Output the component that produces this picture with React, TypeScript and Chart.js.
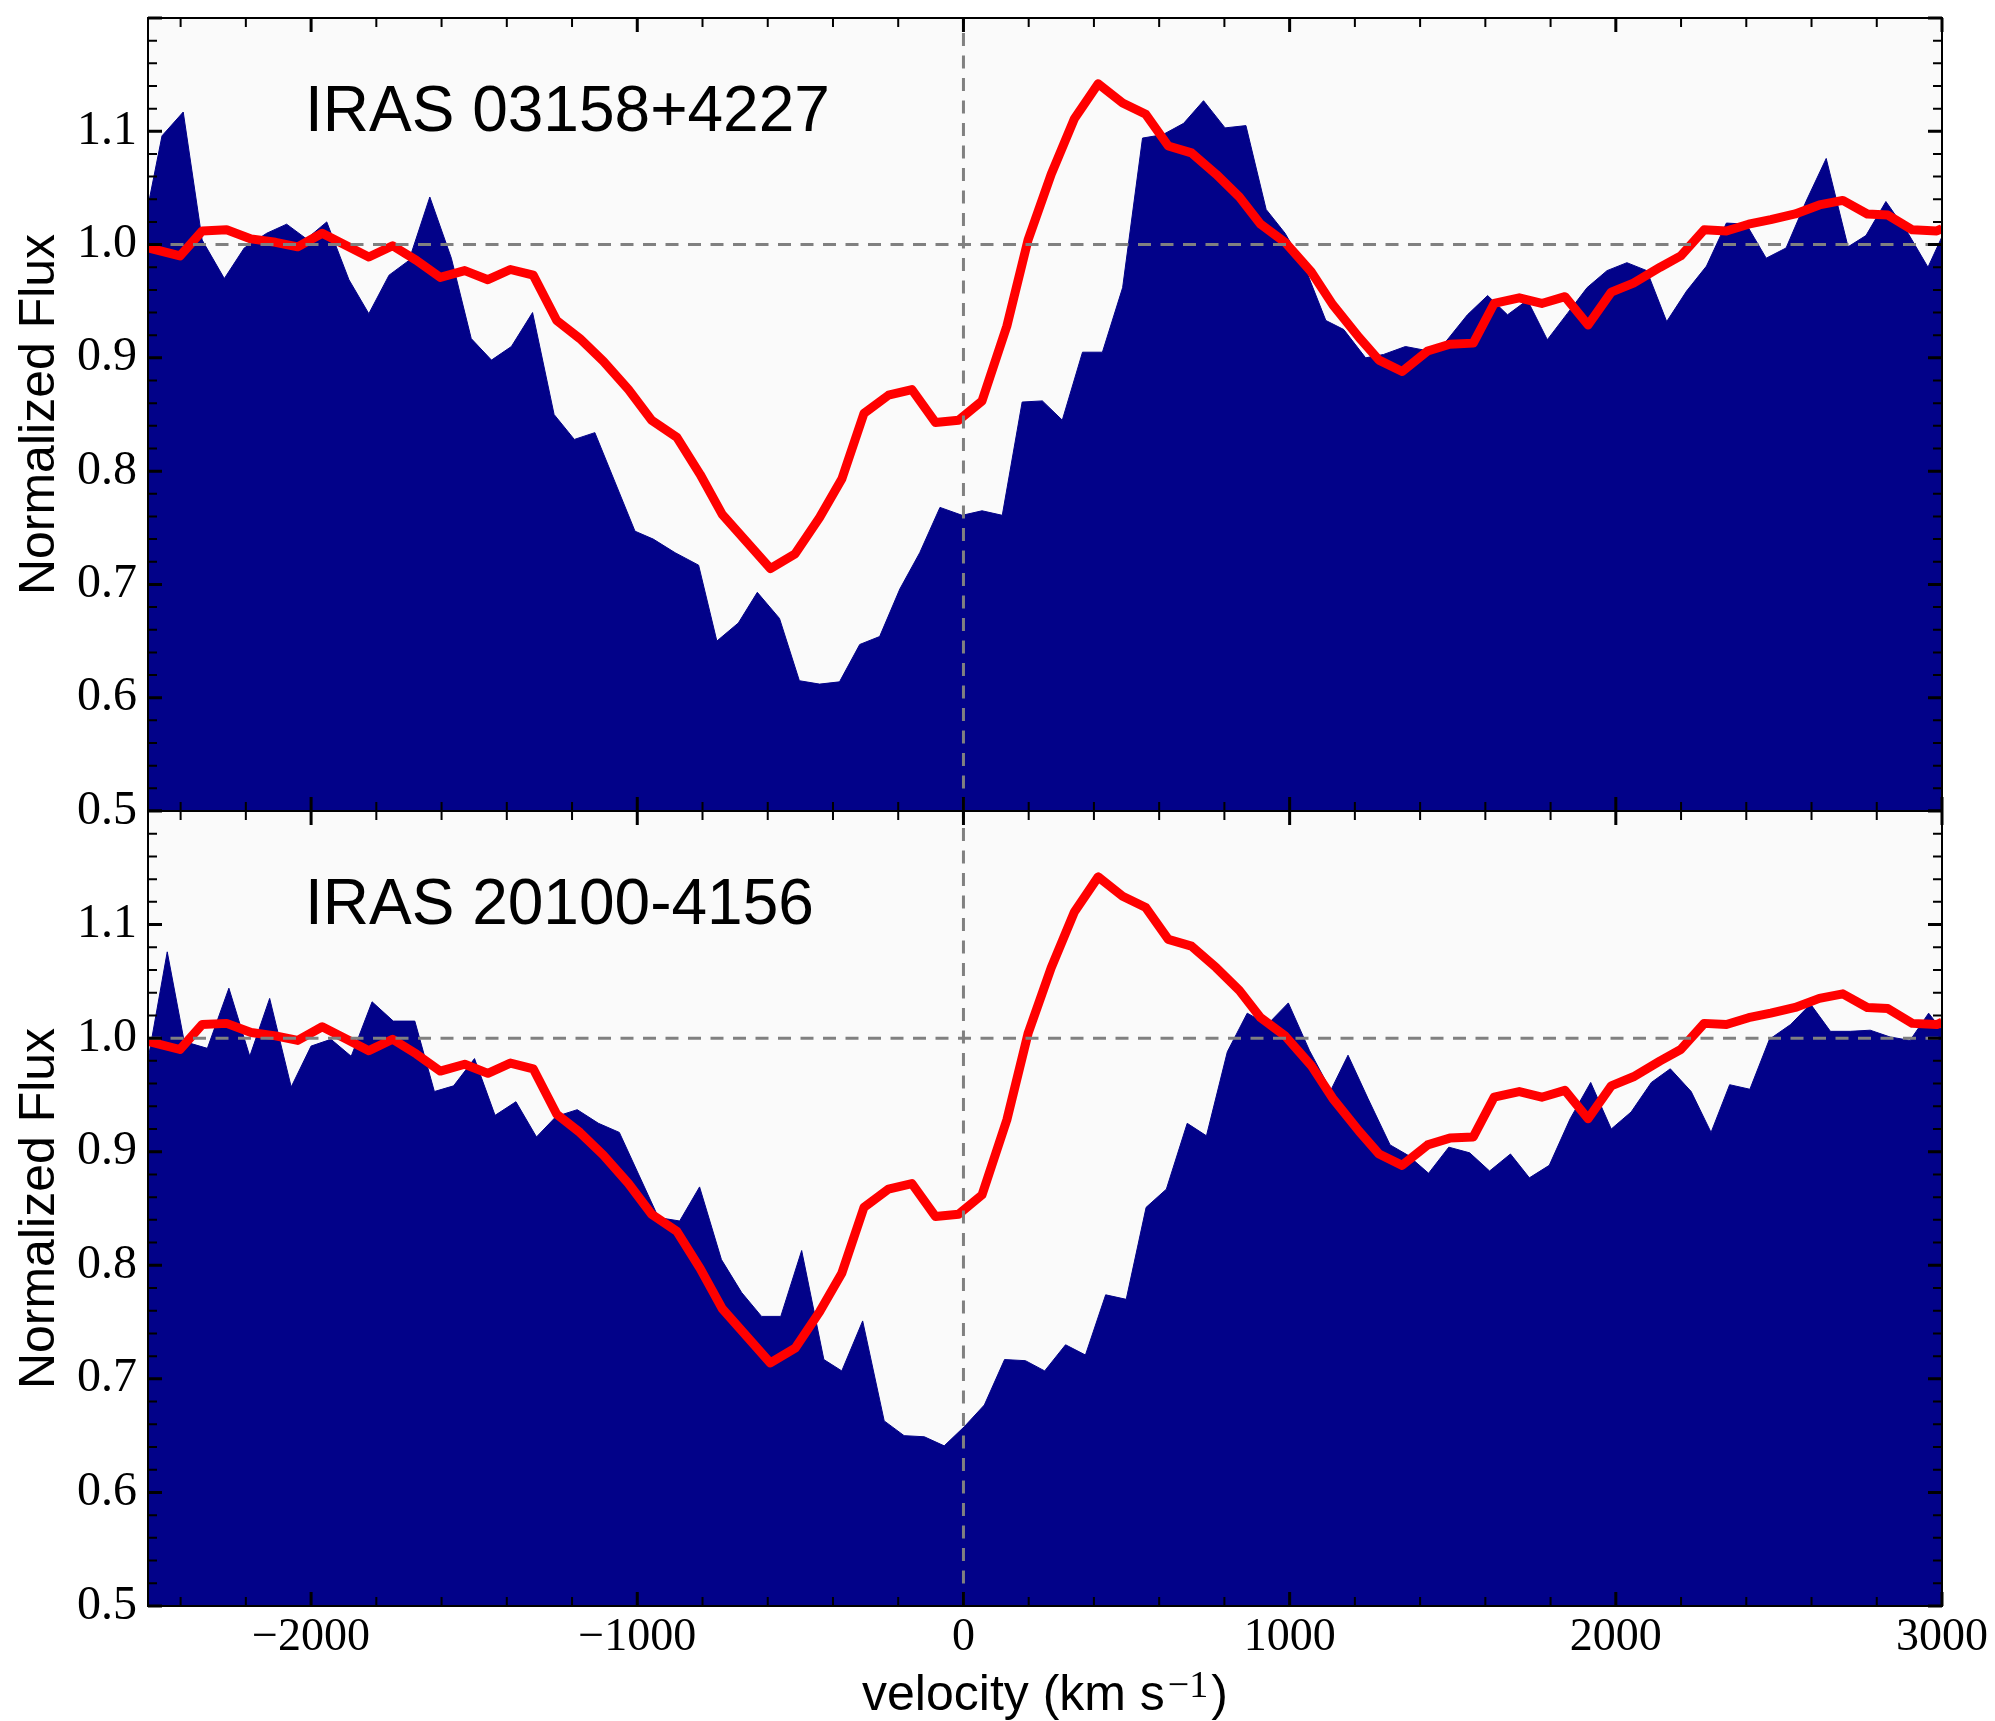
import React, { useEffect, useRef } from "react";
import { Chart, registerables } from "chart.js";

Chart.register(...registerables);

// Model profile (red), shared by both panels
const modelVelocity = [
  -2498, -2402, -2334, -2259, -2184, -2109, -2041, -1966, -1891, -1823,
  -1750, -1677, -1604, -1529, -1458, -1389, -1319, -1247, -1176, -1104,
  -1027, -956, -879, -807, -740, -592, -516, -441, -373, -305,
  -230, -158, -86, -15, 57, 133, 198, 269, 340, 413,
  488, 559, 628, 699, 775, 846, 911, 986, 1066, 1132,
  1213, 1274, 1345, 1423, 1491, 1563, 1627, 1704, 1773, 1844,
  1915, 1986, 2054, 2136, 2199, 2271, 2339, 2407, 2475, 2550,
  2624, 2696, 2771, 2834, 2909, 2984, 3000,
];
const modelFlux = [
  0.997, 0.99, 1.012, 1.013, 1.005, 1.002, 0.998, 1.01, 0.999, 0.989,
  0.999, 0.986, 0.971, 0.977, 0.969, 0.978, 0.973, 0.933, 0.917, 0.897,
  0.872, 0.845, 0.83, 0.797, 0.762, 0.714, 0.727, 0.759, 0.793, 0.851,
  0.867, 0.872, 0.843, 0.845, 0.862, 0.928, 1.004, 1.062, 1.111, 1.142,
  1.125, 1.115, 1.087, 1.081, 1.062, 1.042, 1.018, 1.002, 0.976, 0.947,
  0.918, 0.898, 0.888, 0.906, 0.912, 0.913, 0.948, 0.953, 0.948, 0.954,
  0.929, 0.958, 0.966, 0.98, 0.99, 1.013, 1.012, 1.018, 1.022, 1.027,
  1.035, 1.039, 1.027, 1.026, 1.013, 1.012, 1.014,
];

// IRAS 03158+4227 observed spectrum
const iras03158Velocity = [
  -2500, -2457, -2392, -2334, -2266, -2205, -2136, -2075, -2014, -1952,
  -1884, -1823, -1761, -1700, -1636, -1570, -1509, -1447, -1386, -1321,
  -1255, -1193, -1130, -1007, -951, -884, -812, -756, -690, -632,
  -564, -503, -441, -380, -318, -257, -195, -134, -72, -4,
  57, 119, 180, 242, 303, 365, 426, 488, 549, 611,
  675, 736, 802, 866, 928, 986, 1048, 1111, 1166, 1233,
  1288, 1355, 1410, 1478, 1545, 1607, 1668, 1729, 1790, 1851,
  1912, 1973, 2034, 2095, 2156, 2217, 2278, 2339, 2400, 2461,
  2522, 2583, 2645, 2712, 2767, 2828, 2896, 2957, 3000,
];
const iras03158Flux = [
  1.034, 1.096, 1.117, 1.004, 0.97, 0.997, 1.01, 1.018, 1.005, 1.02,
  0.969, 0.939, 0.973, 0.986, 1.042, 0.988, 0.917, 0.898, 0.91, 0.94,
  0.85, 0.828, 0.834, 0.747, 0.74, 0.728, 0.717, 0.65, 0.666, 0.693,
  0.67, 0.615, 0.612, 0.614, 0.647, 0.654, 0.696, 0.728, 0.768, 0.761,
  0.765, 0.761, 0.861, 0.862, 0.845, 0.905, 0.905, 0.962, 1.094, 1.097,
  1.107, 1.127, 1.103, 1.105, 1.031, 1.01, 0.979, 0.933, 0.925, 0.9,
  0.903, 0.91, 0.907, 0.914, 0.938, 0.955, 0.938, 0.951, 0.916, 0.939,
  0.962, 0.977, 0.984, 0.977, 0.932, 0.959, 0.981, 1.019, 1.018, 0.988,
  0.997, 1.038, 1.076, 0.998, 1.008, 1.038, 1.01, 0.98, 1.007,
];

// IRAS 20100-4156 observed spectrum
const iras20100Velocity = [
  -2500, -2441, -2389, -2318, -2252, -2188, -2127, -2061, -2000, -1939,
  -1877, -1813, -1748, -1682, -1622, -1563, -1499, -1436, -1372, -1309,
  -1249, -1184, -1119, -1055, -935, -870, -809, -742, -680, -619,
  -560, -496, -428, -373, -309, -243, -182, -120, -59, 3,
  64, 126, 190, 249, 313, 374, 436, 499, 560, 622,
  686, 745, 809, 870, 932, 996, 1061, 1126, 1179, 1240,
  1308, 1362, 1426, 1488, 1552, 1613, 1677, 1735, 1796, 1860,
  1923, 1986, 2047, 2109, 2167, 2231, 2292, 2349, 2411, 2471,
  2536, 2597, 2658, 2719, 2780, 2841, 2902, 2959, 3000,
];
const iras20100Flux = [
  0.981, 1.076, 0.997, 0.991, 1.044, 0.984, 1.035, 0.957, 0.993, 0.999,
  0.984, 1.032, 1.015, 1.015, 0.953, 0.958, 0.982, 0.932, 0.944, 0.913,
  0.931, 0.937, 0.925, 0.917, 0.842, 0.839, 0.869, 0.805, 0.776, 0.755,
  0.755, 0.813, 0.717, 0.707, 0.751, 0.663, 0.65, 0.649, 0.641, 0.658,
  0.677, 0.717, 0.716, 0.707, 0.73, 0.721, 0.774, 0.77, 0.851, 0.867,
  0.925, 0.914, 0.988, 1.022, 1.012, 1.031, 0.989, 0.954, 0.985, 0.947,
  0.906, 0.897, 0.881, 0.904, 0.899, 0.883, 0.898, 0.877, 0.888, 0.929,
  0.961, 0.92, 0.935, 0.961, 0.973, 0.953, 0.917, 0.959, 0.955, 0.999,
  1.012, 1.03, 1.006, 1.006, 1.007, 1.001, 0.998, 1.022, 1.007,
];

const velocityTicks = [-2000, -1000, 0, 1000, 2000, 3000];
const fluxTicks = [0.5, 0.6, 0.7, 0.8, 0.9, 1.0, 1.1];
const objectNames = ["IRAS 03158+4227", "IRAS 20100-4156"];

const WIDTH = 1995;
const HEIGHT = 1721;
const NAVY = "#020289";
const SANS = "'Liberation Sans', Arial, Helvetica, sans-serif";
const SERIF = "'Liberation Serif', 'Times New Roman', serif";

const toPoints = (xs: number[], ys: number[]) => xs.map((x, i) => ({ x, y: ys[i] }));

const formatVelocity = (v: number) => (v < 0 ? "\u2212" + Math.abs(v) : String(v));

function panelDecor(name: string) {
  return {
    id: "panelDecor",
    beforeDatasetsDraw(chart: any) {
      const { ctx, chartArea: a } = chart;
      ctx.save();
      ctx.fillStyle = "#fafafa";
      ctx.fillRect(a.left, a.top, a.right - a.left, a.bottom - a.top);
      ctx.restore();
    },
    afterDatasetsDraw(chart: any) {
      const { ctx, chartArea: a, scales } = chart;
      const xs = scales.x;
      const ys = scales.y;
      ctx.save();

      // dashed reference lines: continuum level and zero velocity
      ctx.strokeStyle = "#808080";
      ctx.lineWidth = 3;
      ctx.setLineDash([13, 9.5]);
      const yOne = ys.getPixelForValue(1);
      ctx.beginPath();
      ctx.moveTo(a.left, yOne);
      ctx.lineTo(a.right, yOne);
      ctx.stroke();
      const xZero = xs.getPixelForValue(0);
      ctx.beginPath();
      ctx.moveTo(xZero, a.bottom);
      ctx.lineTo(xZero, a.top);
      ctx.stroke();
      ctx.setLineDash([]);

      // inward tick marks on all four sides
      ctx.strokeStyle = "#000";
      const xTick = (v: number, len: number, lw: number) => {
        const px = xs.getPixelForValue(v);
        ctx.lineWidth = lw;
        ctx.beginPath();
        ctx.moveTo(px, a.bottom);
        ctx.lineTo(px, a.bottom - len);
        ctx.moveTo(px, a.top);
        ctx.lineTo(px, a.top + len);
        ctx.stroke();
      };
      const yTick = (v: number, len: number, lw: number) => {
        const py = ys.getPixelForValue(v);
        ctx.lineWidth = lw;
        ctx.beginPath();
        ctx.moveTo(a.left, py);
        ctx.lineTo(a.left + len, py);
        ctx.moveTo(a.right, py);
        ctx.lineTo(a.right - len, py);
        ctx.stroke();
      };
      for (let v = -2400; v <= 2800; v += 200) {
        if (v % 1000 !== 0) xTick(v, 9, 2);
      }
      velocityTicks.forEach((v) => xTick(v, 14, 3));
      for (let k = 26; k <= 59; k++) {
        if (k % 5 !== 0) yTick(k / 50, 9, 2);
      }
      [...fluxTicks, 1.2].forEach((v) => yTick(v, 14, 3));

      // frame
      ctx.lineWidth = 2;
      ctx.strokeRect(a.left, a.top, a.right - a.left, a.bottom - a.top);

      // object name
      ctx.fillStyle = "#000";
      ctx.font = `64px ${SANS}`;
      ctx.textBaseline = "alphabetic";
      ctx.textAlign = "left";
      ctx.fillText(name, a.left + 157, a.top + 113);
      ctx.restore();
    },
  };
}

const velocityTitle = {
  id: "velocityTitle",
  afterDraw(chart: any) {
    const { ctx, chartArea: a } = chart;
    const main = "velocity (km s";
    const sup = "\u22121";
    const close = ")";
    const baseline = 1710;
    ctx.save();
    ctx.fillStyle = "#000";
    ctx.textBaseline = "alphabetic";
    ctx.textAlign = "left";
    ctx.font = `50px ${SANS}`;
    const w1 = ctx.measureText(main).width;
    const w3 = ctx.measureText(close).width;
    ctx.font = `38px ${SERIF}`;
    const w2 = ctx.measureText(sup).width;
    const total = w1 + 3 + w2 + 3 + w3;
    let x = (a.left + a.right) / 2 - total / 2;
    ctx.font = `50px ${SANS}`;
    ctx.fillText(main, x, baseline);
    x += w1 + 3;
    ctx.font = `38px ${SERIF}`;
    ctx.fillText(sup, x, baseline - 13);
    x += w2 + 3;
    ctx.font = `50px ${SANS}`;
    ctx.fillText(close, x, baseline);
    ctx.restore();
  },
};

function buildPanel(
  canvas: HTMLCanvasElement,
  velocity: number[],
  flux: number[],
  name: string,
  plotTop: number,
  plotBottom: number,
  showVelocityLabels: boolean
) {
  const xAxisHeight = showVelocityLabels ? HEIGHT - plotBottom : 0;
  const plugins: any[] = [panelDecor(name)];
  if (showVelocityLabels) plugins.push(velocityTitle);
  return new Chart(canvas, {
    type: "line",
    data: {
      datasets: [
        {
          label: "model",
          data: toPoints(modelVelocity, modelFlux),
          borderColor: "#ff0000",
          borderWidth: 9,
          borderJoinStyle: "round",
          pointRadius: 0,
          fill: false,
          tension: 0,
          order: 0,
          clip: 0,
        },
        {
          label: name,
          data: toPoints(velocity, flux),
          borderColor: NAVY,
          backgroundColor: NAVY,
          borderWidth: 1,
          pointRadius: 0,
          fill: "start",
          tension: 0,
          order: 1,
        },
      ],
    },
    options: {
      responsive: false,
      animation: false,
      devicePixelRatio: 1,
      events: [],
      layout: {
        padding: {
          top: plotTop,
          left: 0,
          right: WIDTH - 1942,
          bottom: HEIGHT - plotBottom - xAxisHeight,
        },
      },
      plugins: {
        legend: { display: false },
        tooltip: { enabled: false },
      },
      scales: {
        x: {
          type: "linear",
          min: -2500,
          max: 3000,
          grid: { display: false, drawTicks: false },
          border: { display: false },
          afterBuildTicks: (s: any) => {
            s.ticks = velocityTicks.map((v) => ({ value: v }));
          },
          afterFit: (s: any) => {
            s.height = xAxisHeight;
            s.paddingLeft = 0;
            s.paddingRight = 0;
          },
          ticks: {
            display: showVelocityLabels,
            autoSkip: false,
            maxRotation: 0,
            padding: 4,
            color: "#000",
            font: { family: SERIF, size: 46 },
            callback: (v: any) => formatVelocity(Number(v)),
          },
        },
        y: {
          type: "linear",
          min: 0.5,
          max: 1.2,
          grid: { display: false, drawTicks: false },
          border: { display: false },
          afterBuildTicks: (s: any) => {
            s.ticks = fluxTicks.map((v) => ({ value: v }));
          },
          afterFit: (s: any) => {
            s.width = 148;
            s.paddingTop = 0;
            s.paddingBottom = 0;
          },
          ticks: {
            padding: 11,
            color: "#000",
            font: { family: SERIF, size: 48 },
            callback: (v: any) => Number(v).toFixed(1),
          },
          title: {
            display: true,
            text: "Normalized Flux",
            color: "#000",
            font: { family: SANS, size: 50 },
            padding: { top: 10, bottom: 0 },
          },
        },
      },
    },
    plugins,
  } as any);
}

export default function App() {
  const topRef = useRef<HTMLCanvasElement>(null);
  const bottomRef = useRef<HTMLCanvasElement>(null);

  useEffect(() => {
    if (!topRef.current || !bottomRef.current) return;
    const top = buildPanel(topRef.current, iras03158Velocity, iras03158Flux, objectNames[0], 18, 811, false);
    const bottom = buildPanel(bottomRef.current, iras20100Velocity, iras20100Flux, objectNames[1], 811, 1606, true);
    return () => {
      top.destroy();
      bottom.destroy();
    };
  }, []);

  const canvasStyle: React.CSSProperties = {
    position: "absolute",
    left: 0,
    top: 0,
    width: WIDTH,
    height: HEIGHT,
  };

  return (
    <div style={{ position: "absolute", left: 0, top: 0, width: WIDTH, height: HEIGHT, background: "#fff" }}>
      <canvas ref={topRef} width={WIDTH} height={HEIGHT} style={canvasStyle} />
      <canvas ref={bottomRef} width={WIDTH} height={HEIGHT} style={canvasStyle} />
    </div>
  );
}
